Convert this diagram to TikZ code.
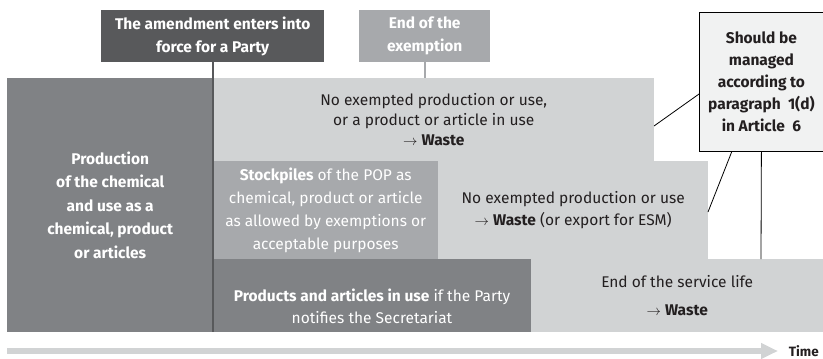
\documentclass[tikz,border=0pt]{standalone}
\usepackage{fontspec}
\setmainfont{Fira Sans}
\usetikzlibrary{arrows.meta}
\definecolor{headdark}{HTML}{58595B}
\definecolor{midgray}{HTML}{808285}
\definecolor{medgray}{HTML}{A7A9AC}
\definecolor{lightgray}{HTML}{D1D3D4}
\definecolor{notefill}{HTML}{F1F2F2}
\definecolor{ink}{HTML}{231F20}
\newcommand{\toarrow}{$\rightarrow$}
\begin{document}
\begin{tikzpicture}[x=1pt,y=-1pt,
  box/.style={inner sep=0pt, anchor=north west, align=center},
  whitebold/.style={text=white, font=\fontsize{15.5}{23}\selectfont\bfseries},
  plain/.style={text=ink, font=\fontsize{15.5}{20}\selectfont},
  pale/.style={text=white, font=\fontsize{15.5}{23}\selectfont},
  leader/.style={draw=black, line width=0.8pt}]
\useasboundingbox (0,0) rectangle (823,359);

% column headers
\node[box, fill=headdark, minimum width=223pt, minimum height=52pt, whitebold] (enter) at (101,10)
  {The amendment enters into\\force for a Party};
\node[box, fill=medgray, minimum width=131pt, minimum height=52pt, whitebold] (endex) at (359,10)
  {End of the\\exemption};

% left block
\node[box, fill=midgray, minimum width=206pt, minimum height=254pt, whitebold,
  font=\fontsize{15.5}{23.6}\selectfont\bfseries] (prodn) at (7,78)
  {Production\\of the chemical\\and use as a\\chemical, product\\or articles};

% first row
\node[box, fill=lightgray, minimum width=441pt, minimum height=83pt, plain] (norow) at (213,78)
  {No exempted production or use,\\or a product or article in use\\\toarrow\ \textbf{Waste}};

% second row
\node[box, fill=medgray, minimum width=225pt, minimum height=98pt, pale] (stock) at (213,161)
  {\textbf{Stockpiles} of the POP as\\chemical, product or article\\as allowed by exemptions or\\acceptable purposes};
\node[box, fill=lightgray, minimum width=270pt, minimum height=98pt, plain,
  font=\fontsize{15.5}{22}\selectfont] (noexp) at (438,161)
  {No exempted production or use\\\toarrow\ \textbf{Waste} (or export for ESM)};

% third row
\node[box, fill=midgray, minimum width=318pt, minimum height=73pt] (inuse) at (213,259) {};
\node[pale, align=center, font=\fontsize{15.5}{22}\selectfont] (inusetxt) at (372,306)
  {\textbf{Products and articles in use} if the Party\\notifies the Secretariat};
\node[box, fill=lightgray, minimum width=292pt, minimum height=73pt, plain,
  font=\fontsize{15.5}{28}\selectfont] (life) at (531,259)
  {End of the service life\\\toarrow\ \textbf{Waste}};

% timeline markers
\draw[headdark, line width=2pt] (enter.south) -- (enter.south |- inuse.south);
\draw[medgray, line width=2pt] (endex.south) -- (endex.south |- norow.north);

% note box and its leaders
\node[box, fill=notefill, draw=black, line width=0.8pt, minimum width=124pt, minimum height=139pt,
  text=ink, font=\fontsize{15.5}{22}\selectfont\bfseries] (note) at (699,12)
  {Should be\\managed\\according to\\paragraph~~1(d)\\in Article~~6};
\coordinate (p1) at (654,126);
\coordinate (p2) at (708,212);
\coordinate (p3) at (761,259);
\draw[leader] (p1) -- (note.191);
\draw[leader] (p2) -- (note.247);
\draw[leader] (p3) -- (note.south);

% time axis
\coordinate (t0) at (7,351);
\node[anchor=east, inner sep=0pt, text=ink, font=\fontsize{13.5}{16}\selectfont\bfseries] (time) at (819,351) {Time};
\draw[lightgray, line width=6pt, -{Triangle[length=17pt,width=15pt]}] (t0) -- (time.west -| 778,0);
\end{tikzpicture}
\end{document}
